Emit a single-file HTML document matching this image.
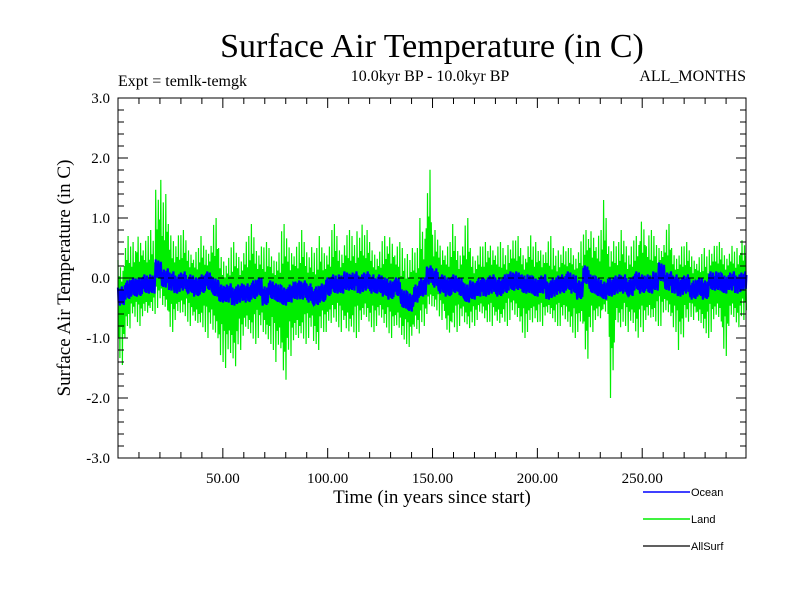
<!DOCTYPE html>
<html><head><meta charset="utf-8"><style>
body{margin:0;background:#fff}
svg{display:block}
text{font-family:"Liberation Serif",serif;fill:#000}
.s{font-family:"Liberation Sans",sans-serif}
</style></head><body>
<svg id="chart" width="800" height="600">
<text x="432" y="57" font-size="34" text-anchor="middle">Surface Air Temperature (in C)</text>
<text x="118" y="86" font-size="16">Expt = temlk-temgk</text>
<text x="430" y="81" font-size="16" text-anchor="middle">10.0kyr BP - 10.0kyr BP</text>
<text x="746" y="81" font-size="16" text-anchor="end">ALL_MONTHS</text>
<text transform="translate(70,278) rotate(-90)" font-size="19" text-anchor="middle">Surface Air Temperature (in C)</text>
<text x="432" y="503" font-size="19" text-anchor="middle">Time (in years since start)</text>
<g id="series"></g>
<g id="axes"></g>
<g>
<g><line x1="643" y1="492" x2="690" y2="492" stroke="#0000ff" stroke-width="1.5"/><text class="s" x="691" y="496" font-size="11">Ocean</text></g>
<g><line x1="643" y1="519" x2="690" y2="519" stroke="#00ee00" stroke-width="1.5"/><text class="s" x="691" y="523" font-size="11">Land</text></g>
<g><line x1="643" y1="546" x2="690" y2="546" stroke="#000" stroke-width="1.2"/><text class="s" x="691" y="550" font-size="11">AllSurf</text></g>
</g>
</svg>
<script>
const binYears = 3;
const landHigh = [0.3,0.8,0.6,0.9,0.7,0.8,1.8,1.4,0.9,0.8, 0.8,0.6,0.5,0.7,0.6,1.0,0.5,0.4,0.6,0.5, 0.7,0.9,0.6,0.6,0.5,0.5,0.9,0.7,0.6,0.8, 0.6,0.5,0.7,0.6,0.9,0.6,0.8,0.7,1.0,0.8, 0.6,0.5,0.7,0.9,0.6,0.5,0.6,0.5,1.0,2.0, 0.8,0.7,0.6,0.9,0.6,1.0,0.5,0.6,0.6,0.7, 0.6,0.5,0.7,0.7,0.5,0.8,0.6,0.6,0.7,0.5, 0.6,0.5,0.5,0.7,0.8,1.0,0.8,1.3,0.7,0.6, 0.8,0.6,0.7,1.2,0.8,0.7,0.6,0.9,0.5,0.6, 0.6,0.5,0.4,0.5,0.6,0.6,0.5,0.6,0.5,0.8];
const landLow = [-1.45,-1.0,-0.7,-0.8,-0.7,-0.6,-0.5,-0.6,-0.9,-0.7, -0.7,-0.8,-0.9,-0.9,-1.0,-1.1,-1.4,-1.5,-1.6,-1.2, -1.0,-1.1,-1.0,-1.1,-1.2,-1.4,-1.85,-1.3,-1.2,-1.1, -1.0,-1.3,-0.9,-0.9,-0.8,-0.9,-1.1,-1.0,-0.9,-0.8, -0.9,-0.8,-0.9,-1.0,-1.0,-1.1,-1.15,-1.0,-0.8,-0.6, -0.6,-0.7,-1.1,-0.9,-0.8,-0.9,-0.8,-0.7,-0.8,-0.8, -0.9,-0.8,-0.7,-0.8,-1.0,-0.9,-0.8,-0.8,-0.7,-0.8, -0.8,-0.9,-1.0,-0.9,-1.5,-0.9,-0.8,-0.6,-2.0,-0.9, -0.8,-0.9,-1.1,-0.9,-0.8,-0.8,-0.8,-0.7,-0.9,-1.2, -0.8,-0.7,-0.9,-1.0,-0.9,-0.8,-1.3,-0.8,-0.9,-0.7];
const oceanMean = [-0.3,-0.2,-0.15,-0.15,-0.1,-0.1,0.15,0.0,-0.05,-0.1, -0.05,-0.1,-0.15,-0.1,-0.05,-0.15,-0.25,-0.25,-0.3,-0.25, -0.25,-0.2,-0.15,-0.3,-0.2,-0.25,-0.3,-0.25,-0.2,-0.2, -0.25,-0.3,-0.25,-0.15,-0.1,-0.1,-0.05,-0.05,-0.1,-0.05, -0.1,-0.1,-0.15,-0.2,-0.15,-0.35,-0.4,-0.25,-0.15,0.05, 0.0,-0.1,-0.15,-0.1,-0.15,-0.25,-0.2,-0.15,-0.15,-0.1, -0.15,-0.1,-0.05,-0.05,-0.1,-0.1,-0.15,-0.1,-0.2,-0.15, -0.1,-0.05,-0.1,-0.2,0.05,-0.1,-0.15,-0.2,-0.15,-0.1, -0.1,-0.15,-0.05,-0.1,-0.1,-0.05,0.1,-0.05,-0.1,-0.15, -0.1,-0.2,-0.15,-0.2,-0.05,-0.05,-0.1,-0.05,-0.1,-0.05];
const yTicks = [3.0,2.0,1.0,0.0,-1.0,-2.0,-3.0];
const yTickLabels = ["3.0","2.0","1.0","0.0","-1.0","-2.0","-3.0"];
const xTicks = [50,100,150,200,250];
const xTickLabels = ["50.00","100.00","150.00","200.00","250.00"];

const L=118,R=746,T=98,B=458,X0=0,X1=299.5,Y0=-3,Y1=3;
const sx=v=>L+(v-X0)/(X1-X0)*(R-L);
const sy=v=>B-(v-Y0)/(Y1-Y0)*(B-T);
const NS='http://www.w3.org/2000/svg';
const ser=document.getElementById('series'), ax=document.getElementById('axes');
function mk(tag,attrs,parent){const e=document.createElementNS(NS,tag);for(const k in attrs)e.setAttribute(k,attrs[k]);parent.appendChild(e);return e;}

const upF=[1.0,0.55,0.8,0.4,0.7,0.5,0.9,0.45];
const dnF=[0.6,0.9,0.45,1.0,0.55,0.75,0.5,0.8];
let lp=[];
landHigh.forEach((h,i)=>{
  const lo=landLow[i], m=oceanMean[i], x0=i*binYears, n=10, shift=(i*3)%8;
  for(let k=0;k<n;k++){
    const j=(Math.floor(k/2)+shift)%8;
    const v = k%2===0 ? m+upF[j]*(h-m) : m-dnF[j]*(m-lo);
    lp.push(sx(x0+k*binYears/n).toFixed(1)+','+sy(v).toFixed(1));
  }
});
const land=mk('polyline',{points:lp.join(' '),fill:'none',stroke:'#00ee00','stroke-width':1.2},ser);



const oD=[0.14,-0.12,0.08,-0.16,0.12,-0.08,0.16,-0.13,0.1,-0.15];
let op=[];
oceanMean.forEach((m,i)=>{
  const x0=i*binYears, n=10;
  for(let k=0;k<n;k++) op.push(sx(x0+k*binYears/n).toFixed(1)+','+sy(m+oD[(k+i)%10]).toFixed(1));
});
const ocean=mk('polyline',{points:op.join(' '),fill:'none',stroke:'#0000ff','stroke-width':2.2},ser);



const zero=mk('line',{x1:L,x2:R,y1:sy(0),y2:sy(0),stroke:'#000','stroke-width':1,'stroke-dasharray':'6,4'},ser);



const frame=mk('rect',{x:L,y:T,width:R-L,height:B-T,fill:'none',stroke:'#000','stroke-width':1},ax);


for(let v=-3;v<=3.001;v+=0.2){
  const major=Math.abs(v-Math.round(v))<0.01, len=major?10:6, y=sy(v);
  mk('line',{x1:L,x2:L+len,y1:y,y2:y,stroke:'#000'},ax);
  mk('line',{x1:R,x2:R-len,y1:y,y2:y,stroke:'#000'},ax);
}
yTicks.forEach((v,i)=>{
  const t=mk('text',{x:L-8,y:sy(v)+5,'font-size':15,'text-anchor':'end'},ax);
  t.textContent=yTickLabels[i];
  
  
});
for(let v=10;v<X1;v+=10){
  const major=v%50===0, len=major?10:6, x=sx(v);
  mk('line',{x1:x,x2:x,y1:B,y2:B-len,stroke:'#000'},ax);
  mk('line',{x1:x,x2:x,y1:T,y2:T+len,stroke:'#000'},ax);
}
xTicks.forEach((v,i)=>{
  const t=mk('text',{x:sx(v),y:B+25,'font-size':15,'text-anchor':'middle'},ax);
  t.textContent=xTickLabels[i];
  
  
});
</script>
</body></html>
